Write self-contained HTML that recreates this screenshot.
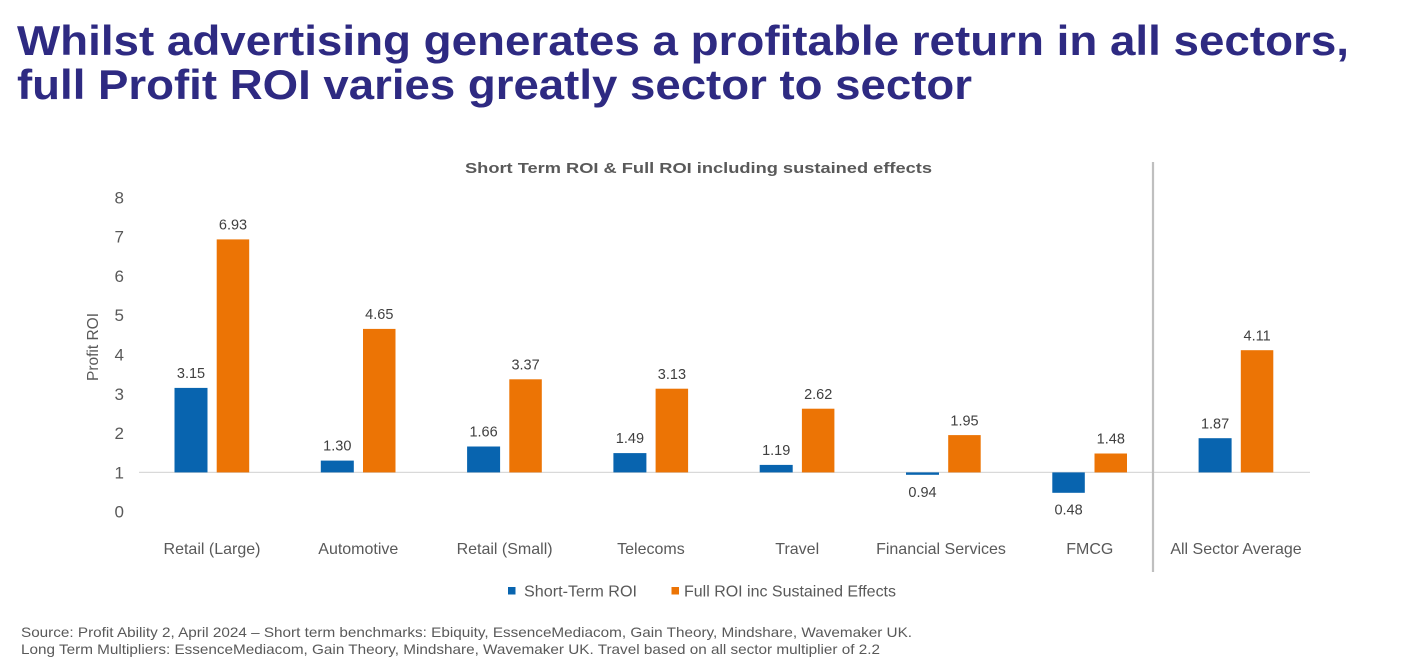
<!DOCTYPE html>
<html>
<head>
<meta charset="utf-8">
<style>
html,body{margin:0;padding:0;background:#fff;}
svg{display:block;}
text{font-family:"Liberation Sans",Arial,sans-serif;}
</style>
</head>
<body>
<svg width="1418" height="663" viewBox="0 0 1418 663" xmlns="http://www.w3.org/2000/svg">
<rect width="1418" height="663" fill="#fff"/>
<!-- Title -->
<text x="17" y="55" font-size="42" font-weight="bold" fill="#2E2A82" textLength="1332" lengthAdjust="spacingAndGlyphs">Whilst advertising generates a profitable return in all sectors,</text>
<text x="17" y="99" font-size="42" font-weight="bold" fill="#2E2A82" textLength="955" lengthAdjust="spacingAndGlyphs">full Profit ROI varies greatly sector to sector</text>

<!-- Chart title -->
<text x="465" y="173" font-size="15" font-weight="bold" fill="#595959" textLength="467" lengthAdjust="spacingAndGlyphs">Short Term ROI &amp; Full ROI including sustained effects</text>

<!-- Y axis ticks -->
<g font-size="17" fill="#595959" text-anchor="end">
<text x="124" y="203.3">8</text>
<text x="124" y="242.6">7</text>
<text x="124" y="281.9">6</text>
<text x="124" y="321.2">5</text>
<text x="124" y="360.5">4</text>
<text x="124" y="399.8">3</text>
<text x="124" y="439.1">2</text>
<text x="124" y="478.4">1</text>
<text x="124" y="517.7">0</text>
</g>
<text transform="translate(98,347) rotate(-90)" font-size="15.5" fill="#595959" text-anchor="middle">Profit ROI</text>

<!-- baseline gridline -->
<line x1="139" y1="472.4" x2="1310" y2="472.4" stroke="#D9D9D9" stroke-width="1.2"/>

<!-- separator -->
<line x1="1153" y1="162" x2="1153" y2="572" stroke="#BFBFBF" stroke-width="2.2"/>

<!-- Bars: y(v)=511.7-39.3v ; baseline 472.4 -->
<g fill="#0864AF">
<rect x="174.5" y="387.9" width="33" height="84.5"/>
<rect x="320.8" y="460.6" width="33" height="11.8"/>
<rect x="467.1" y="446.5" width="33" height="25.9"/>
<rect x="613.4" y="453.1" width="33" height="19.3"/>
<rect x="759.7" y="464.9" width="33" height="7.5"/>
<rect x="906.0" y="472.4" width="33" height="2.4"/>
<rect x="1052.3" y="472.4" width="32.5" height="20.4"/>
<rect x="1198.6" y="438.2" width="33" height="34.2"/>
</g>
<g fill="#EC7405">
<rect x="216.7" y="239.4" width="32.5" height="233.0"/>
<rect x="363.0" y="328.9" width="32.5" height="143.5"/>
<rect x="509.3" y="379.3" width="32.5" height="93.1"/>
<rect x="655.6" y="388.7" width="32.5" height="83.7"/>
<rect x="801.9" y="408.7" width="32.5" height="63.7"/>
<rect x="948.2" y="435.1" width="32.5" height="37.3"/>
<rect x="1094.5" y="453.5" width="32.5" height="18.9"/>
<rect x="1240.8" y="350.2" width="32.5" height="122.2"/>
</g>

<!-- Data labels -->
<g font-size="14.5" fill="#404040" text-anchor="middle">
<text x="191" y="378">3.15</text>
<text x="233" y="229.5">6.93</text>
<text x="337.3" y="450.5">1.30</text>
<text x="379.3" y="319">4.65</text>
<text x="483.6" y="436.5">1.66</text>
<text x="525.6" y="369.5">3.37</text>
<text x="629.9" y="443">1.49</text>
<text x="671.9" y="379">3.13</text>
<text x="776.2" y="455">1.19</text>
<text x="818.2" y="399">2.62</text>
<text x="922.5" y="497">0.94</text>
<text x="964.5" y="425.5">1.95</text>
<text x="1068.6" y="514.5">0.48</text>
<text x="1110.8" y="443.5">1.48</text>
<text x="1215.1" y="428.5">1.87</text>
<text x="1257.1" y="340.5">4.11</text>
</g>

<!-- Category labels -->
<g font-size="16" fill="#595959" text-anchor="middle">
<text x="212" y="554">Retail (Large)</text>
<text x="358.3" y="554">Automotive</text>
<text x="504.6" y="554">Retail (Small)</text>
<text x="650.9" y="554">Telecoms</text>
<text x="797.2" y="554">Travel</text>
<text x="941" y="554">Financial Services</text>
<text x="1089.8" y="554">FMCG</text>
<text x="1236" y="554">All Sector Average</text>
</g>

<!-- Legend -->
<rect x="508" y="587" width="7.5" height="7.5" fill="#0864AF"/>
<text x="524" y="596.5" font-size="16" fill="#595959" textLength="113" lengthAdjust="spacingAndGlyphs">Short-Term ROI</text>
<rect x="671.5" y="587" width="7.5" height="7.5" fill="#EC7405"/>
<text x="684" y="596.5" font-size="16" fill="#595959" textLength="212" lengthAdjust="spacingAndGlyphs">Full ROI inc Sustained Effects</text>

<!-- Footer -->
<text x="21" y="637" font-size="14" fill="#595959" textLength="891" lengthAdjust="spacingAndGlyphs">Source: Profit Ability 2, April 2024 – Short term benchmarks: Ebiquity, EssenceMediacom, Gain Theory, Mindshare, Wavemaker UK.</text>
<text x="21" y="654" font-size="14" fill="#595959" textLength="859" lengthAdjust="spacingAndGlyphs">Long Term Multipliers: EssenceMediacom, Gain Theory, Mindshare, Wavemaker UK. Travel based on all sector multiplier of 2.2</text>
</svg>
</body>
</html>
